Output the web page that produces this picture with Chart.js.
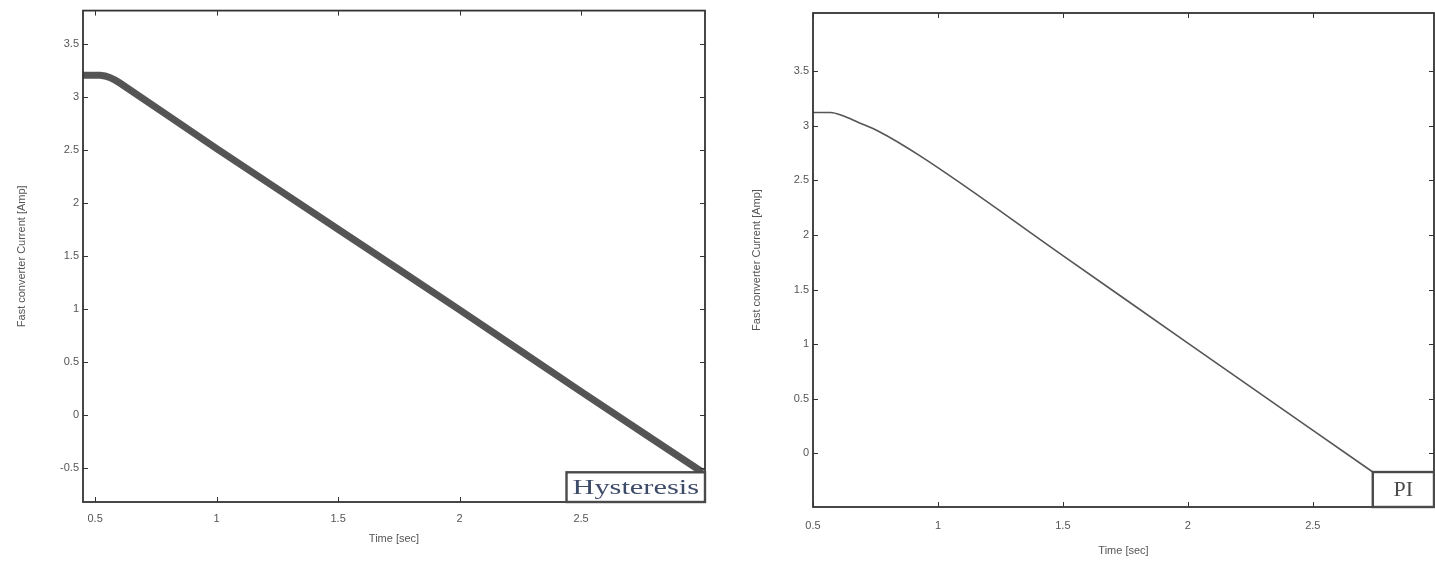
<!DOCTYPE html>
<html>
<head>
<meta charset="utf-8">
<title>Fast converter current</title>
<script src="https://cdn.jsdelivr.net/npm/chart.js@4.4.1/dist/chart.umd.min.js"></script>
<style>
    html, body { margin: 0; padding: 0; background: #fff; }
    #page { position: relative; width: 1435px; height: 565px; overflow: hidden; }
    .panel { position: absolute; top: 0; }
</style>
</head>
<body>
<div id="page">
    <div class="panel" style="left:0px"><canvas id="hysChart" width="715" height="565"></canvas></div>
    <div class="panel" style="left:720px"><canvas id="piChart" width="715" height="565"></canvas></div>
</div>
<script>
// Hysteresis controller: fast converter current vs time
const timeHys    = [0.45, 0.52, 0.56, 0.60, 1.00, 1.50, 2.00, 2.50, 3.00];
const currentHys = [3.20, 3.20, 3.18, 3.13, 2.51, 1.75, 0.99, 0.22, -0.54];

// PI controller: fast converter current vs time
const timePI    = [0.50, 0.57, 0.62, 0.68, 0.76, 0.93, 1.50, 2.00, 2.74];
const currentPI = [3.12, 3.12, 3.09, 3.03, 2.95, 2.72, 1.81, 1.01, -0.17];

// Tick values
const timeTicks       = [0.5, 1, 1.5, 2, 2.5];
const hysCurrentTicks = [-0.5, 0, 0.5, 1, 1.5, 2, 2.5, 3, 3.5];
const piCurrentTicks  = [0, 0.5, 1, 1.5, 2, 2.5, 3, 3.5];

const PlotTheme = {
    ink: '#333333',
    text: '#555555',
    trace: 'rgba(70, 70, 70, 0.92)',
    font: "'Liberation Sans', Arial, sans-serif",
    serif: "'Liberation Serif', 'Times New Roman', serif"
};

// Zip two arrays into {x, y} points
function toPoints(xs, ys) {
    return xs.map((x, i) => ({ x: x, y: ys[i] }));
}

function fixedTicks(values) {
    return function(scale) {
        scale.ticks = values.map(v => ({ value: v }));
    };
}

// MATLAB-like box: frame, inward ticks on all four sides, and a label box
const framePlugin = {
    id: 'matlabFrame',
    afterDraw(chart, args, opts) {
        const { ctx, chartArea: a, scales } = chart;
        const len = 5;
        ctx.save();
        ctx.strokeStyle = PlotTheme.ink;
        ctx.lineWidth = 1;
        ctx.beginPath();
        scales.x.ticks.forEach(t => {
            const px = Math.round(scales.x.getPixelForValue(t.value)) + 0.5;
            ctx.moveTo(px, a.bottom); ctx.lineTo(px, a.bottom - len);
            ctx.moveTo(px, a.top); ctx.lineTo(px, a.top + len);
        });
        scales.y.ticks.forEach(t => {
            const py = Math.round(scales.y.getPixelForValue(t.value)) + 0.5;
            ctx.moveTo(a.left, py); ctx.lineTo(a.left + len, py);
            ctx.moveTo(a.right, py); ctx.lineTo(a.right - len, py);
        });
        ctx.stroke();

        ctx.lineWidth = 1.8;
        ctx.strokeRect(a.left, a.top, a.right - a.left, a.bottom - a.top);

        // label box in data units
        if (opts.box) {
            const b = opts.box;
            const x0 = scales.x.getPixelForValue(b.x0);
            const x1 = Math.min(scales.x.getPixelForValue(b.x1), a.right);
            const y0 = scales.y.getPixelForValue(b.y0);
            const y1 = Math.min(scales.y.getPixelForValue(b.y1), a.bottom);
            ctx.fillStyle = '#fff';
            ctx.fillRect(x0, y0, x1 - x0, y1 - y0);
            ctx.lineWidth = 2.4;
            ctx.strokeStyle = '#4a4a4a';
            ctx.strokeRect(x0, y0, x1 - x0, y1 - y0);

            ctx.fillStyle = b.color;
            ctx.font = b.size + 'px ' + PlotTheme.serif;
            ctx.textAlign = 'center';
            ctx.textBaseline = 'middle';
            const cx = (x0 + x1) / 2, cy = (y0 + y1) / 2 + 1;
            // stretch the text across the box if asked
            let sx = 1;
            if (b.fill) {
                const w = ctx.measureText(b.text).width;
                sx = (x1 - x0 - b.fill) / w;
            }
            ctx.translate(cx, cy);
            ctx.scale(sx, 1);
            ctx.fillText(b.text, 0, 0);
        }
        ctx.restore();
    }
};

function buildOptions(cfg) {
    const tickFont = { family: PlotTheme.font, size: 11 };
    return {
        responsive: false,
        animation: false,
        events: [],
        layout: {
            autoPadding: false,
            padding: { top: cfg.padTop, right: cfg.padRight, bottom: 0, left: 0 }
        },
        plugins: {
            legend: { display: false },
            tooltip: { enabled: false },
            matlabFrame: { box: cfg.box }
        },
        scales: {
            x: {
                type: 'linear',
                min: cfg.xMin,
                max: cfg.xMax,
                afterFit: s => { s.height = cfg.xAxisHeight; },
                afterBuildTicks: fixedTicks(timeTicks),
                grid: { display: false, drawTicks: false },
                border: { display: false },
                ticks: {
                    autoSkip: false, maxRotation: 0, padding: cfg.xTickPad,
                    color: PlotTheme.text, font: tickFont,
                    callback: v => String(v)
                },
                title: {
                    display: true, text: 'Time [sec]', color: PlotTheme.text,
                    font: tickFont, padding: { top: 0, bottom: cfg.xTitlePad }
                }
            },
            y: {
                type: 'linear',
                min: cfg.yMin,
                max: cfg.yMax,
                afterFit: s => { s.width = cfg.yAxisWidth; },
                afterBuildTicks: fixedTicks(cfg.yTicks),
                grid: { display: false, drawTicks: false },
                border: { display: false },
                ticks: {
                    autoSkip: false, padding: 4,
                    color: PlotTheme.text, font: tickFont,
                    callback: v => String(v)
                },
                title: {
                    display: true, text: 'Fast converter Current [Amp]', color: PlotTheme.text,
                    font: tickFont, padding: { top: cfg.yTitlePad, bottom: 0 }
                }
            }
        }
    };
}

// Hysteresis: thick rippled trace
new Chart(document.getElementById('hysChart'), {
    type: 'line',
    data: {
        datasets: [{
            data: toPoints(timeHys, currentHys),
            borderColor: PlotTheme.trace,
            borderWidth: 7,
            pointRadius: 0,
            tension: 0.2
        }, {
            data: toPoints(timeHys, currentHys),
            borderColor: 'rgba(200, 200, 200, 0.6)',
            borderWidth: 2,
            borderDash: [2, 3],
            pointRadius: 0,
            tension: 0.2
        }]
    },
    options: buildOptions({
        xMin: 0.45, xMax: 3.01, yMin: -0.82, yMax: 3.81,
        yTicks: hysCurrentTicks,
        padTop: 10, padRight: 10,
        xAxisHeight: 63, yAxisWidth: 83,
        xTickPad: 10, xTitlePad: 19, yTitlePad: 15,
        box: { x0: 2.44, x1: 3.01, y0: -0.54, y1: -0.82, text: 'Hysteresis', size: 22, fill: 12, color: '#3e4b68' }
    }),
    plugins: [framePlugin]
});

// PI: thin smooth trace
new Chart(document.getElementById('piChart'), {
    type: 'line',
    data: {
        datasets: [{
            data: toPoints(timePI, currentPI),
            borderColor: PlotTheme.trace,
            borderWidth: 1.6,
            pointRadius: 0,
            cubicInterpolationMode: 'monotone'
        }]
    },
    options: buildOptions({
        xMin: 0.5, xMax: 2.985, yMin: -0.49, yMax: 4.03,
        yTicks: piCurrentTicks,
        padTop: 13, padRight: 1,
        xAxisHeight: 58, yAxisWidth: 93,
        xTickPad: 12, xTitlePad: 7, yTitlePad: 30,
        box: { x0: 2.74, x1: 2.985, y0: -0.17, y1: -0.49, text: 'PI', size: 22, color: '#4a4a4a' }
    }),
    plugins: [framePlugin]
});
</script>
</body>
</html>
